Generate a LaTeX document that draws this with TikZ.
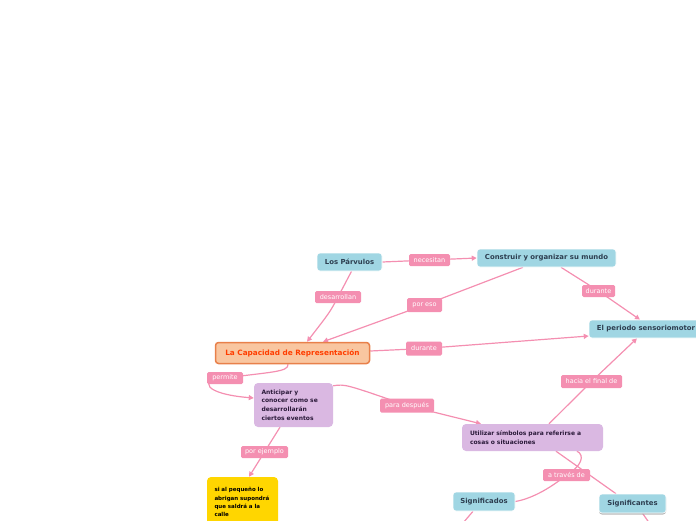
\documentclass[tikz,border=0pt]{standalone}
\usepackage{fontspec}
\setmainfont{DejaVu Sans}
\usetikzlibrary{arrows.meta,shadows,backgrounds}
\definecolor{blueN}{HTML}{A0D6E3}
\definecolor{blueT}{HTML}{2D3E50}
\definecolor{pinkL}{HTML}{F48FB1}
\definecolor{orangeF}{HTML}{F9C6A0}
\definecolor{orangeB}{HTML}{E8804A}
\definecolor{orangeT}{HTML}{FF3D00}
\definecolor{purpleF}{HTML}{DAB8E2}
\definecolor{purpleT}{HTML}{2B1A3A}
\definecolor{yellowF}{HTML}{FFD600}
\begin{document}
\begin{tikzpicture}[x=1pt,y=-1pt,
 bnode/.style={fill=blueN, rounded corners=3pt, text=blueT, font=\fontsize{6.9}{8}\selectfont\bfseries, inner sep=0pt, draw=white, line width=0.6pt},
 lbl/.style={fill=pinkL, rounded corners=1.5pt, text=white, font=\fontsize{6.5}{7}\selectfont, inner sep=0pt},
 pnode/.style={fill=purpleF, rounded corners=4pt, text=purpleT, font=\fontsize{6.0}{8.6}\selectfont\bfseries, inner sep=0pt, align=left},
 conn/.style={draw=pinkL, line width=1.2pt},
 arr/.style={conn, -{Triangle[length=5pt,width=5pt]}},
]
\useasboundingbox (0,0) rectangle (696,520);

% main nodes
\node[bnode, minimum width=65pt, minimum height=18pt] (parv) at (349.5,262) {Los Párvulos};
\node[bnode, minimum width=139pt, minimum height=18pt] (constr) at (546.5,258) {Construir y organizar su mundo};
\node[bnode, minimum width=114pt, minimum height=18pt] (periodo) at (646,329) {El periodo sensoriomotor};
\node[fill=orangeF, draw=orangeB, line width=1.5pt, rounded corners=3pt, text=orangeT,
      font=\fontsize{7.3}{8}\selectfont\bfseries, inner sep=0pt,
      minimum width=154pt, minimum height=21pt] (capac) at (292.5,353) {La Capacidad de Representación};
\node[pnode, minimum width=79pt, minimum height=44pt, text width=64pt] (antic) at (293.5,405)
  {Anticipar y\\conocer como se\\desarrollarán\\ciertos eventos};
\node[pnode, minimum width=141pt, minimum height=27pt, text width=125pt] (utiliz) at (532.5,437.5)
  {Utilizar símbolos para referirse a\\cosas o situaciones};
\node[fill=yellowF, rounded corners=4pt, text=black, font=\fontsize{5.5}{8.2}\selectfont\bfseries,
      inner sep=0pt, align=left, minimum width=71pt, minimum height=50pt, text width=56pt] (yel) at (242.5,502)
  {si al pequeño lo\\abrigan supondrá\\que saldrá a la\\calle};
\node[bnode, minimum width=62pt, minimum height=19pt] (signdos) at (484,501.5) {Significados};
\node[bnode, minimum width=67pt, minimum height=19pt,
      drop shadow={shadow xshift=0pt, shadow yshift=-1.5pt, fill=black!35, opacity=0.8}] (signtes) at (632.5,503.5) {Significantes};

% labels
\node[lbl, minimum width=41pt, minimum height=12pt] (nec) at (429.5,260) {necesitan};
\node[lbl, minimum width=46pt, minimum height=12pt] (des) at (338,297) {desarrollan};
\node[lbl, minimum width=35pt, minimum height=14pt] (poreso) at (424.5,305) {por eso};
\node[lbl, minimum width=33pt, minimum height=12pt] (dur1) at (598.5,291) {durante};
\node[lbl, minimum width=36pt, minimum height=14pt] (dur2) at (424,348.5) {durante};
\node[lbl, minimum width=36pt, minimum height=12pt] (perm) at (225,378) {permite};
\node[lbl, minimum width=54pt, minimum height=14pt] (para) at (407,405.5) {para después};
\node[lbl, minimum width=61pt, minimum height=13pt] (hacia) at (591.5,381.5) {hacia el final de};
\node[lbl, minimum width=47pt, minimum height=12pt] (porej) at (264.5,452) {por ejemplo};
\node[lbl, minimum width=47pt, minimum height=12pt] (atr) at (566.5,475) {a través de};

\coordinate (o1) at (463,523);
\coordinate (o2) at (650,524);

\begin{pgfonlayer}{background}
\draw[conn] (parv.east) -- (nec.center);
\draw[arr] (nec.center) -- (constr.west);
\draw[conn] ([xshift=2pt]parv.south) -- (des.center);
\draw[arr] (des.center) .. controls (330,312) .. ([xshift=14.5pt]capac.north);
\draw[conn] ([xshift=-23.5pt]constr.south) -- (poreso.center);
\draw[arr] (poreso.center) -- ([xshift=30.5pt]capac.north);
\draw[conn] ([xshift=14.5pt]constr.south) -- (dur1.center);
\draw[arr] (dur1.center) -- ([xshift=-6pt]periodo.north);
\draw[conn] ([yshift=2pt]capac.east) -- (dur2.center);
\draw[arr] (dur2.center) -- ([yshift=-7pt]periodo.west);
\draw[conn] ([xshift=-4.5pt]capac.south) .. controls (289,372) and (270,372) .. (perm.center);
\draw[arr] (perm.center) .. controls (198,380) and (204,394) .. ([yshift=7pt]antic.west);
\draw[conn] ([yshift=-3pt]antic.north east) .. controls (345,384) .. (para.center);
\draw[arr] (para.center) -- ([xshift=-51.5pt]utiliz.north);
\draw[conn] ([xshift=16.5pt]utiliz.north) -- (hacia.center);
\draw[arr] (hacia.center) -- ([xshift=-9pt]periodo.south);
\draw[conn] ([xshift=-13.5pt]antic.south) -- (porej.center);
\draw[arr] (porej.center) -- ([xshift=6.5pt]yel.north);
\draw[conn] ([xshift=44.5pt]utiliz.south) .. controls (585,455) and (582,466) .. (atr.center);
\draw[conn] (atr.center) .. controls (548,490) and (530,499) .. (signdos.east);
\draw[conn] ([xshift=23.5pt]utiliz.south) -- ([xshift=-16.5pt]signtes.north);
\draw[conn] ([xshift=-11pt]signdos.south) -- (o1);
\draw[conn] ([xshift=10pt]signtes.south) -- (o2);
\end{pgfonlayer}
\end{tikzpicture}
\end{document}
